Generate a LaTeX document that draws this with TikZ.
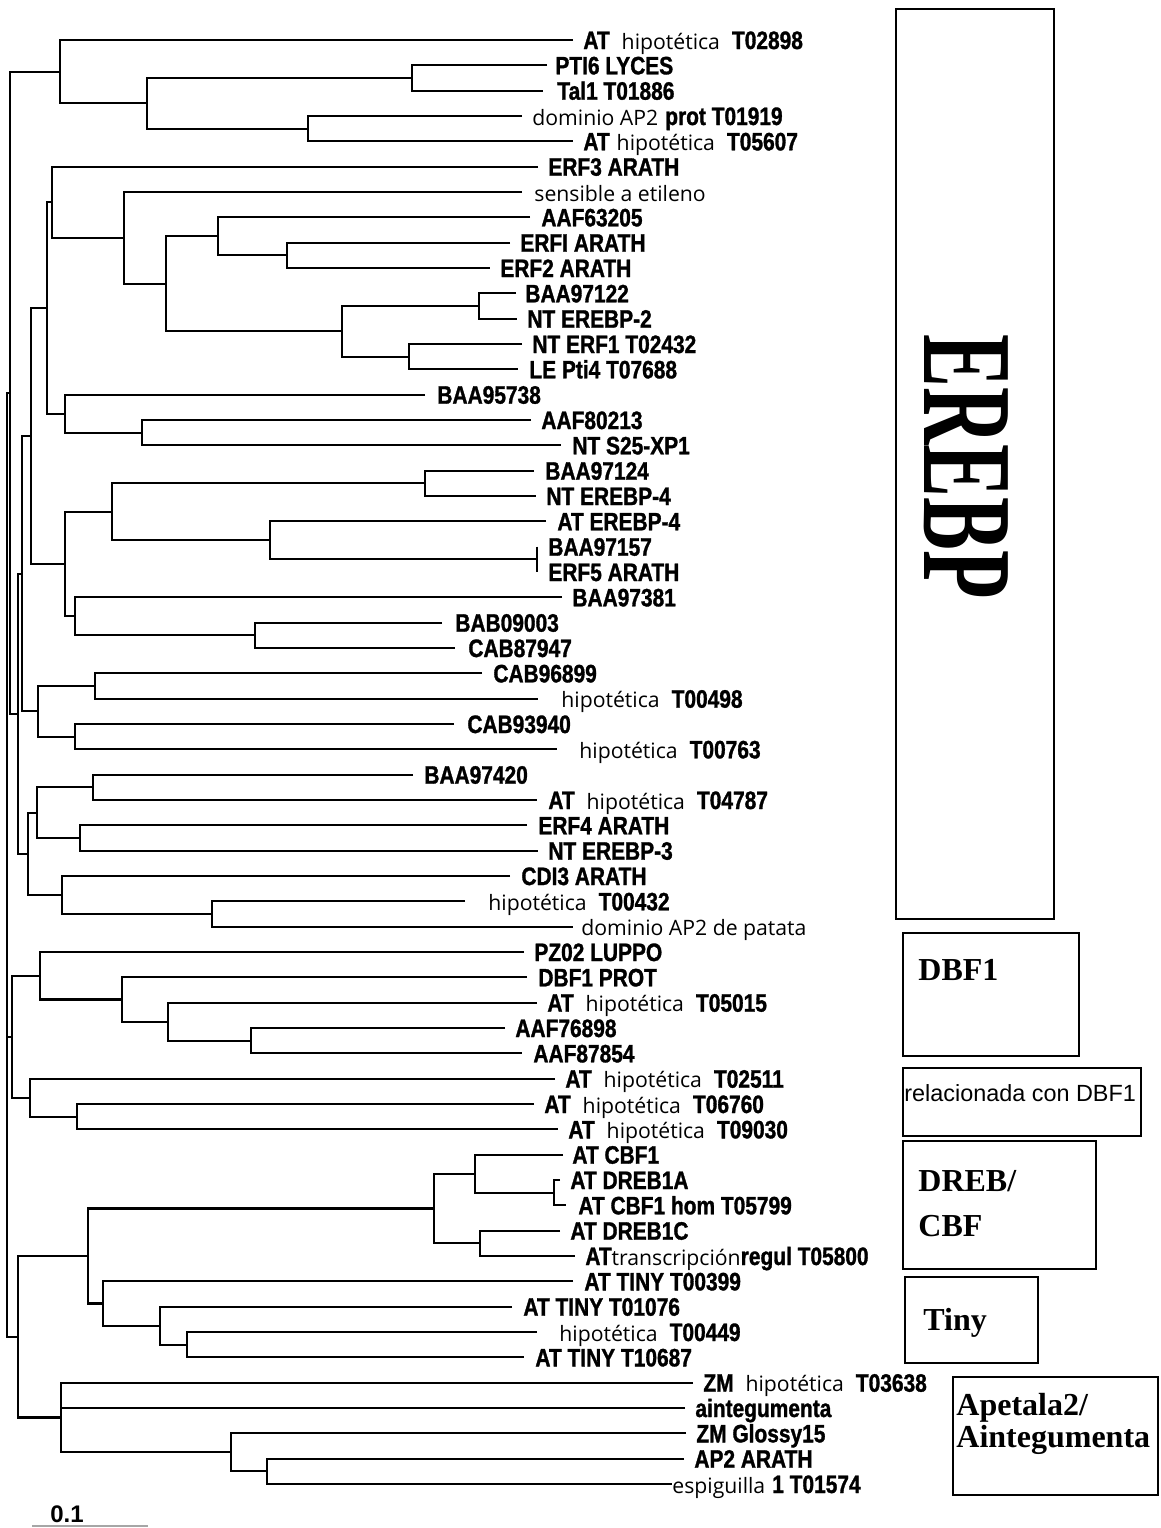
\documentclass[tikz,border=0pt]{standalone}
\usepackage{fontspec}
\usepackage{graphicx}
\setmainfont{Liberation Sans}
\newfontfamily\lbfont[FakeStretch=0.83,FakeBold=1.2]{Liberation Sans}
\newfontfamily\rgfont{Open Sans}
\newfontfamily\serfont{Liberation Serif}
\usetikzlibrary{calc}
\newcommand\B[1]{{\lbfont\bfseries #1}}
\newcommand\R[1]{{\rgfont\fontsize{10.6}{12}\selectfont #1}}
\newcommand\gp{\hspace{6pt}}
\tikzset{
  br/.style={line width=1.1pt},
  lbl/.style={anchor=west, inner sep=0pt, text height=9pt, text depth=0pt, font=\fontsize{12.6}{14}\selectfont},
  box/.style={draw, line width=1.2pt, anchor=north west, inner sep=0pt},
  hd/.style={anchor=west, inner sep=0pt, text height=10.6pt, text depth=0pt, font=\serfont\bfseries\fontsize{16}{18}\selectfont}
}
\newcommand\lf[4]{%
  \coordinate (L#1) at (#2,{40+(#1-1)*25.3333});
  \node[lbl] (T#1) at (#3,{40+(#1-1)*25.3333}) {#4};}
\newcommand\cl[4]{%
  \coordinate (m#1) at ($(#3)!0.5!(#4)$);
  \coordinate (x#1) at (#2,0);
  \coordinate (#1) at (m#1 -| x#1);
  \draw[br] (#3) -- (#3 -| #1) -- (#4 -| #1) -- (#4);}
\begin{document}
\begin{tikzpicture}[x=0.5pt,y=-0.5pt]
\useasboundingbox (0,0) rectangle (1161,1528);
% leaves
\lf{1}{573}{583}{\B{AT}\gp\R{hipotética}\gp\B{T02898}}
\lf{2}{547}{555}{\B{PTI6 LYCES}}
\lf{3}{543}{557}{\B{Tal1 T01886}}
\lf{4}{522}{532}{\R{dominio AP2} \B{prot T01919}}
\lf{5}{573}{583}{\B{AT} \R{hipotética}\gp\B{T05607}}
\lf{6}{538}{548}{\B{ERF3 ARATH}}
\lf{7}{522}{534}{\R{sensible a etileno}}
\lf{8}{530}{541}{\B{AAF63205}}
\lf{9}{510}{520}{\B{ERFI ARATH}}
\lf{10}{490}{500}{\B{ERF2 ARATH}}
\lf{11}{516}{525}{\B{BAA97122}}
\lf{12}{517}{527}{\B{NT EREBP-2}}
\lf{13}{522}{532}{\B{NT ERF1 T02432}}
\lf{14}{518}{529}{\B{LE Pti4 T07688}}
\lf{15}{425}{437}{\B{BAA95738}}
\lf{16}{531}{541}{\B{AAF80213}}
\lf{17}{561}{572}{\B{NT S25-XP1}}
\lf{18}{534}{545}{\B{BAA97124}}
\lf{19}{536}{546}{\B{NT EREBP-4}}
\lf{20}{546}{557}{\B{AT EREBP-4}}
\lf{21}{537}{548}{\B{BAA97157}}
\lf{22}{537}{548}{\B{ERF5 ARATH}}
\lf{23}{562}{572}{\B{BAA97381}}
\lf{24}{442}{455}{\B{BAB09003}}
\lf{25}{455}{468}{\B{CAB87947}}
\lf{26}{482}{493}{\B{CAB96899}}
\lf{27}{538}{561}{\R{hipotética}\gp\B{T00498}}
\lf{28}{454}{467}{\B{CAB93940}}
\lf{29}{557}{579}{\R{hipotética}\gp\B{T00763}}
\lf{30}{413}{424}{\B{BAA97420}}
\lf{31}{537}{548}{\B{AT}\gp\R{hipotética}\gp\B{T04787}}
\lf{32}{527}{538}{\B{ERF4 ARATH}}
\lf{33}{538}{548}{\B{NT EREBP-3}}
\lf{34}{510}{521}{\B{CDI3 ARATH}}
\lf{35}{465}{488}{\R{hipotética}\gp\B{T00432}}
\lf{36}{573}{581}{\R{dominio AP2 de patata}}
\lf{37}{524}{534}{\B{PZ02 LUPPO}}
\lf{38}{527}{538}{\B{DBF1 PROT}}
\lf{39}{537}{547}{\B{AT}\gp\R{hipotética}\gp\B{T05015}}
\lf{40}{505}{515}{\B{AAF76898}}
\lf{41}{522}{533}{\B{AAF87854}}
\lf{42}{555}{565}{\B{AT}\gp\R{hipotética}\gp\B{T02511}}
\lf{43}{534}{544}{\B{AT}\gp\R{hipotética}\gp\B{T06760}}
\lf{44}{558}{568}{\B{AT}\gp\R{hipotética}\gp\B{T09030}}
\lf{45}{563}{572}{\B{AT CBF1}}
\lf{46}{560}{570}{\B{AT DREB1A}}
\lf{47}{566}{578}{\B{AT CBF1 hom T05799}}
\lf{48}{560}{570}{\B{AT DREB1C}}
\lf{49}{575}{585}{\B{AT}\R{transcripción}\B{regul T05800}}
\lf{50}{573}{584}{\B{AT TINY T00399}}
\lf{51}{512}{523}{\B{AT TINY T01076}}
\lf{52}{537}{559}{\R{hipotética}\gp\B{T00449}}
\lf{53}{524}{535}{\B{AT TINY T10687}}
\lf{54}{693}{703}{\B{ZM}\gp\R{hipotética}\gp\B{T03638}}
\lf{55}{685}{695}{\B{aintegumenta}}
\lf{56}{686}{696}{\B{ZM Glossy15}}
\lf{57}{684}{694}{\B{AP2 ARATH}}
\lf{58}{672}{672}{\R{espiguilla} \B{1 T01574}}
% clades
\cl{a1}{412}{L2}{L3}
\cl{a2}{308}{L4}{L5}
\cl{a3}{147}{a1}{a2}
\cl{A}{60}{L1}{a3}
\cl{b1}{287}{L9}{L10}
\cl{b2}{218}{L8}{b1}
\cl{b3}{479}{L11}{L12}
\cl{b4}{409}{L13}{L14}
\cl{b5}{342}{b3}{b4}
\cl{b6}{166}{b2}{b5}
\cl{b7}{124}{L7}{b6}
\cl{B}{52}{L6}{b7}
\cl{c1}{142}{L16}{L17}
\cl{C}{65}{L15}{c1}
\cl{BC}{47}{B}{C}
\cl{d1}{425}{L18}{L19}
\cl{d2}{537}{L21}{L22}
\cl{d3}{270}{L20}{d2}
\cl{d4}{112}{d1}{d3}
\cl{d5}{255}{L24}{L25}
\cl{d6}{75}{L23}{d5}
\cl{D}{65}{d4}{d6}
\cl{BCD}{31}{BC}{D}
\cl{e1}{95}{L26}{L27}
\cl{e2}{75}{L28}{L29}
\cl{E}{38}{e1}{e2}
\cl{BCDE}{22}{BCD}{E}
\cl{f1}{93}{L30}{L31}
\cl{f2}{80}{L32}{L33}
\cl{f3}{37}{f1}{f2}
\cl{f4}{212}{L35}{L36}
\cl{f5}{62}{L34}{f4}
\cl{F}{28}{f3}{f5}
\cl{X}{18}{BCDE}{F}
\cl{AX}{10}{A}{X}
\cl{g1}{251}{L40}{L41}
\cl{g2}{168}{L39}{g1}
\cl{g3}{122}{L38}{g2}
\cl{g4}{40}{L37}{g3}
\cl{g5}{77}{L43}{L44}
\cl{g6}{30}{L42}{g5}
\cl{G}{12}{g4}{g6}
\cl{h1}{554}{L46}{L47}
\cl{h2}{475}{L45}{h1}
\cl{h3}{480}{L48}{L49}
\cl{h4}{434}{h2}{h3}
\cl{t1}{187}{L52}{L53}
\cl{t2}{160}{L51}{t1}
\cl{t3}{103}{L50}{t2}
\cl{H}{88}{h4}{t3}
\cl{p1}{267}{L57}{L58}
\cl{p2}{231}{L56}{p1}
\cl{P}{61}{L54}{p2}
\draw[br] (L55) -- (L55 -| P);
\cl{HP}{18}{H}{P}
\cl{Rt}{7}{AX}{HP}
\draw[br] (G) -- (G -| Rt);
% boxes
\node[box, minimum width=79pt, minimum height=455pt] (bx1) at (895,8) {};
\node[box, minimum width=88pt, minimum height=61.5pt] (bx2) at (902,932) {};
\node[box, minimum width=119pt, minimum height=34pt] (bx3) at (902,1067) {};
\node[box, minimum width=96.5pt, minimum height=64pt] (bx4) at (902,1140) {};
\node[box, minimum width=66.5pt, minimum height=43pt] (bx5) at (904,1276) {};
\node[box, minimum width=102.5pt, minimum height=59pt] (bx6) at (952,1376) {};
\node[rotate=-90, inner sep=0pt, font=\serfont\bfseries\fontsize{64}{64}\selectfont] (terebp) at (966,467) {\scalebox{0.62}[1]{EREBP}};
\node[hd] (tdbf) at (918,970) {DBF1};
\node[anchor=west, inner sep=0pt, font=\fontsize{11.7}{13}\selectfont] (trel) at (904,1093) {relacionada con DBF1};
\node[hd] (tdreb) at (918,1181) {DREB/};
\node[hd] (tcbf) at (918,1226) {CBF};
\node[hd] (ttiny) at (923,1320) {Tiny};
\node[hd] (tap) at (956,1405) {Apetala2/};
\node[hd] (tai) at (956,1437) {Aintegumenta};
% scale
\node[inner sep=0pt, font=\bfseries\fontsize{12}{13}\selectfont] (sc) at (67,1514) {0.1};
\coordinate (s1) at (32,1526);
\coordinate (s2) at (148,1526);
\draw[gray!70, line width=1.2pt] (s1) -- (s2);
\end{tikzpicture}
\end{document}
